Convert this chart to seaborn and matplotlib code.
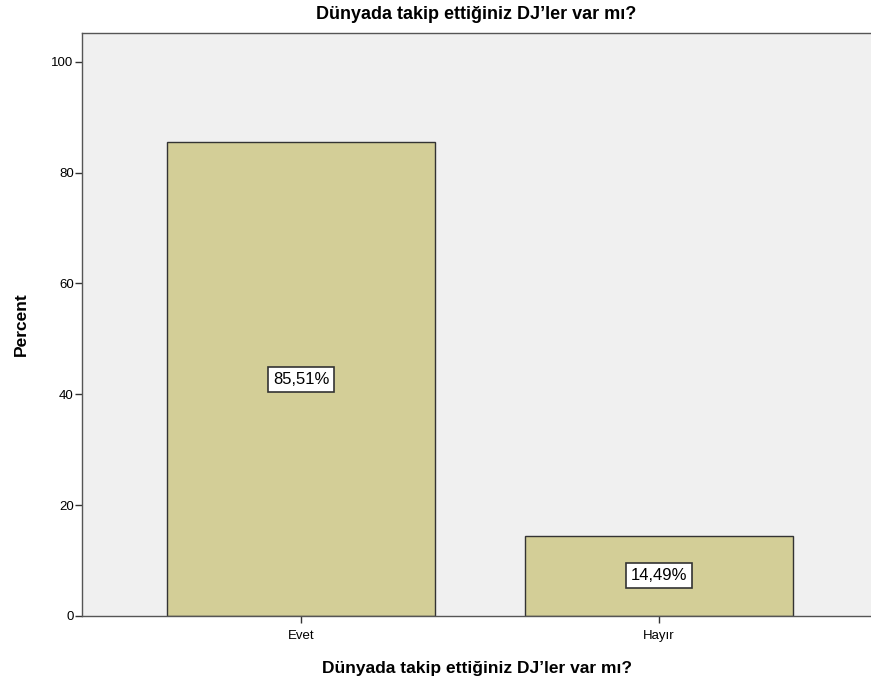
import pandas as pd
import matplotlib.pyplot as plt
import seaborn as sns

# Data
categories = ['Evet', 'Hayır']
percents = [85.51, 14.49]
labels = ['85,51%', '14,49%']

df = pd.DataFrame({'cevap': categories, 'percent': percents})

sns.set_style('white')
plt.rcParams['font.family'] = ['Liberation Sans', 'DejaVu Sans']
plt.rcParams['text.color'] = 'black'
plt.rcParams['axes.labelcolor'] = 'black'
plt.rcParams['xtick.color'] = 'black'
plt.rcParams['ytick.color'] = 'black'

fig = plt.figure(figsize=(8.71, 6.88), dpi=100)
ax = fig.add_axes([82 / 871, 72 / 688, 1 - 82 / 871, 583 / 688])
ax.set_facecolor('#F0F0F0')

sns.barplot(x='cevap', y='percent', data=df, color='#D3CE97',
            width=0.75, edgecolor='#333333', linewidth=1.0,
            saturation=1, ax=ax)

# boxed value labels in the middle of each bar
for i, (p, lab) in enumerate(zip(percents, labels)):
    ax.text(i, p / 2, lab, ha='center', va='center', fontsize=12,
            bbox=dict(boxstyle='square,pad=0.3', fc='white', ec='#333333', lw=1.2))

ax.set_xlim(-0.612, 1.592)
ax.set_ylim(0, 105.2)
ax.set_yticks([0, 20, 40, 60, 80, 100])
ax.tick_params(axis='both', direction='out', length=5, width=1, color='#333333',
               labelsize=9.5, left=True, bottom=True)
ax.tick_params(axis='x', pad=5)
ax.tick_params(axis='y', pad=1)

for s in ['left', 'top', 'bottom']:
    ax.spines[s].set_color('#555555')
    ax.spines[s].set_linewidth(1)
ax.spines['right'].set_visible(False)

ax.set_title('Dünyada takip ettiğiniz DJ’ler var mı?', fontsize=13, fontweight='bold', pad=10)
ax.set_xlabel('Dünyada takip ettiğiniz DJ’ler var mı?', fontsize=12.5, fontweight='bold', labelpad=14)
ax.set_ylabel('Percent', fontsize=12.5, fontweight='bold', labelpad=16)

fig.savefig('out.png', dpi=100)
